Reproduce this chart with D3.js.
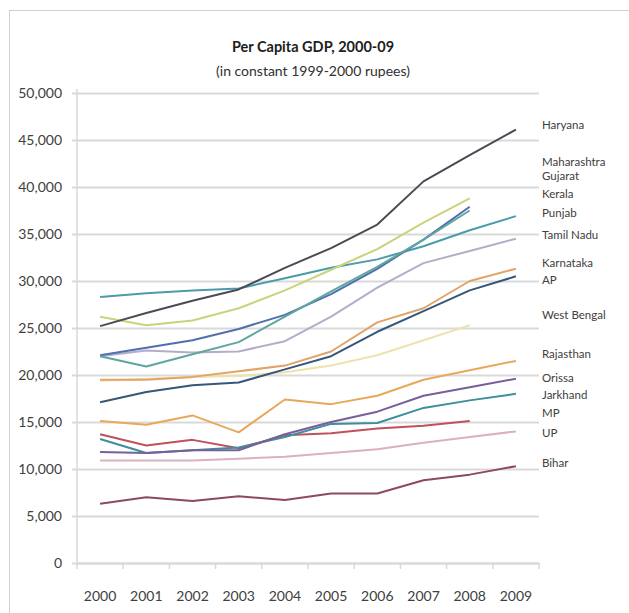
<!DOCTYPE html>
<html>
<head>
<meta charset="utf-8">
<script src="https://cdn.jsdelivr.net/npm/d3@7"></script>
<style>
  html, body { margin: 0; padding: 0; background: #fff; }
  svg { display: block; }
  text { font-family: Lato, "Open Sans", sans-serif; fill: #404040; }
</style>
</head>
<body>
<svg id="chart" width="629" height="613"></svg>
<script>
// Per capita GDP by state, 2000-09, constant 1999-2000 rupees
const years = ["2000", "2001", "2002", "2003", "2004", "2005", "2006", "2007", "2008", "2009"];
const yTicks = [0, 5000, 10000, 15000, 20000, 25000, 30000, 35000, 40000, 45000, 50000];

const haryana     = [25200, 26600, 27900, 29100, 31400, 33500, 36000, 40600, 43400, 46100];
const maharashtra = [26200, 25300, 25800, 27100, 29000, 31200, 33400, 36200, 38800, null];
const gujarat     = [22000, 20900, 22200, 23500, 26200, 28900, 31500, 34400, 37500, null];
const kerala      = [22100, 22900, 23700, 24900, 26400, 28600, 31300, 34400, 37900, null];
const punjab      = [28300, 28700, 29000, 29200, 30300, 31400, 32300, 33700, 35400, 36900];
const tamilNadu   = [22000, 22600, 22400, 22500, 23600, 26200, 29300, 31900, 33200, 34500];
const karnataka   = [19500, 19500, 19800, 20400, 21000, 22500, 25600, 27100, 30000, 31300];
const ap          = [17100, 18200, 18900, 19200, 20600, 22000, 24600, 26800, 29000, 30500];
const westBengal  = [19400, 19600, 19800, 19900, 20300, 21000, 22100, 23700, 25300, null];
const rajasthan   = [15100, 14700, 15700, 13900, 17400, 16900, 17800, 19500, 20500, 21500];
const orissa      = [11800, 11700, 12000, 12000, 13700, 15000, 16100, 17800, 18700, 19600];
const jarkhand    = [13200, 11700, 12000, 12300, 13400, 14800, 14900, 16500, 17300, 18000];
const mp          = [13700, 12500, 13100, 12200, 13600, 13800, 14300, 14600, 15100, null];
const up          = [10900, 10900, 10900, 11100, 11300, 11700, 12100, 12800, 13400, 14000];
const bihar       = [6300, 7000, 6600, 7100, 6700, 7400, 7400, 8800, 9400, 10300];

const stateNames = ["Haryana", "Maharashtra", "Gujarat", "Kerala", "Punjab", "Tamil Nadu",
  "Karnataka", "AP", "West Bengal", "Rajasthan", "Orissa", "Jarkhand", "MP", "UP", "Bihar"];
const stateValues = [haryana, maharashtra, gujarat, kerala, punjab, tamilNadu,
  karnataka, ap, westBengal, rajasthan, orissa, jarkhand, mp, up, bihar];
// value height at which each state's name sits in the right-hand key
const labelLevels = [46600, 42650, 41150, 39250, 37250, 34900, 31900, 30100,
  26400, 22200, 19700, 17900, 15950, 13850, 10650];

// line colours, one per state
const lineColors = {
  "Haryana": "#4b4b55", "Maharashtra": "#c9d37c", "Gujarat": "#5fa5a0", "Kerala": "#4f6fae",
  "Punjab": "#4a9cab", "Tamil Nadu": "#b3adc9", "Karnataka": "#e2a466", "AP": "#34577a",
  "West Bengal": "#efe2ad", "Rajasthan": "#e8a85a", "Orissa": "#76609a", "Jarkhand": "#3e8e9c",
  "MP": "#c0505a", "UP": "#dbb0c0", "Bihar": "#8e4a5c"
};

const svg = d3.select("#chart");
const W = 629, H = 613;
const plot = { left: 77, right: 539, top: 93, bottom: 563 };

// chart frame
svg.append("rect").attr("x", 9.5).attr("y", 10.5).attr("width", W).attr("height", H)
  .attr("fill", "#fff").attr("stroke", "#d0d0d0").attr("stroke-width", 1);

const x = d3.scaleBand().domain(years).range([plot.left, plot.right]);
const y = d3.scaleLinear().domain([0, 50000]).range([plot.bottom, plot.top]);
const cx = d => x(d) + x.bandwidth() / 2;

// titles
svg.append("text").attr("x", 313).attr("y", 52).attr("text-anchor", "middle")
  .style("font-weight", "bold").style("font-size", "14.5px").style("fill", "#202020")
  .text("Per Capita GDP, 2000-09");
svg.append("text").attr("x", 313).attr("y", 76).attr("text-anchor", "middle")
  .style("font-size", "14px").style("fill", "#303030")
  .text("(in constant 1999-2000 rupees)");

// value axis with gridlines
const yAxis = svg.append("g").attr("transform", `translate(${plot.left},0)`)
  .call(d3.axisLeft(y).tickValues(yTicks).tickFormat(d3.format(",")).tickSize(0).tickPadding(15));
yAxis.select(".domain").remove();
yAxis.selectAll(".tick line")
  .attr("x1", -5).attr("x2", plot.right - plot.left)
  .attr("stroke", "#d9d9d9").attr("stroke-width", 2);
yAxis.selectAll(".tick text").style("font-size", "14px").style("fill", "#404040");

// vertical axis line
svg.append("line").attr("x1", plot.left).attr("x2", plot.left)
  .attr("y1", plot.top - 4).attr("y2", plot.bottom)
  .attr("stroke", "#d9d9d9").attr("stroke-width", 1.5);

// category axis
const xAxis = svg.append("g").attr("transform", `translate(0,${plot.bottom})`)
  .call(d3.axisBottom(x).tickSize(0).tickPadding(28));
xAxis.select(".domain").attr("stroke", "#d9d9d9").attr("stroke-width", 2);
xAxis.selectAll(".tick text").style("font-size", "14px").style("fill", "#404040");
// tick marks between categories
const bounds = years.map(d => x(d)).concat([x(years[years.length - 1]) + x.bandwidth()]);
svg.append("g").selectAll("line").data(bounds).join("line")
  .attr("x1", d => d).attr("x2", d => d)
  .attr("y1", plot.bottom).attr("y2", plot.bottom + 6)
  .attr("stroke", "#d9d9d9").attr("stroke-width", 1.5);

// state lines
const line = d3.line()
  .defined(d => d.v != null)
  .x(d => cx(d.year))
  .y(d => y(d.v));

const series = stateNames.map((name, i) => ({
  name,
  points: years.map((yr, j) => ({ year: yr, v: stateValues[i][j] })),
  level: labelLevels[i]
}));

svg.append("g").selectAll("path").data(series.slice().reverse()).join("path")
  .attr("d", d => line(d.points))
  .attr("fill", "none")
  .attr("stroke", d => lineColors[d.name])
  .attr("stroke-width", 2)
  .attr("stroke-linejoin", "round");

// state names on the right
svg.append("g").selectAll("text").data(series).join("text")
  .attr("x", 542).attr("y", d => y(d.level))
  .attr("dy", "0.35em")
  .style("font-size", "11.5px").style("fill", "#404040")
  .text(d => d.name);
</script>
</body>
</html>
